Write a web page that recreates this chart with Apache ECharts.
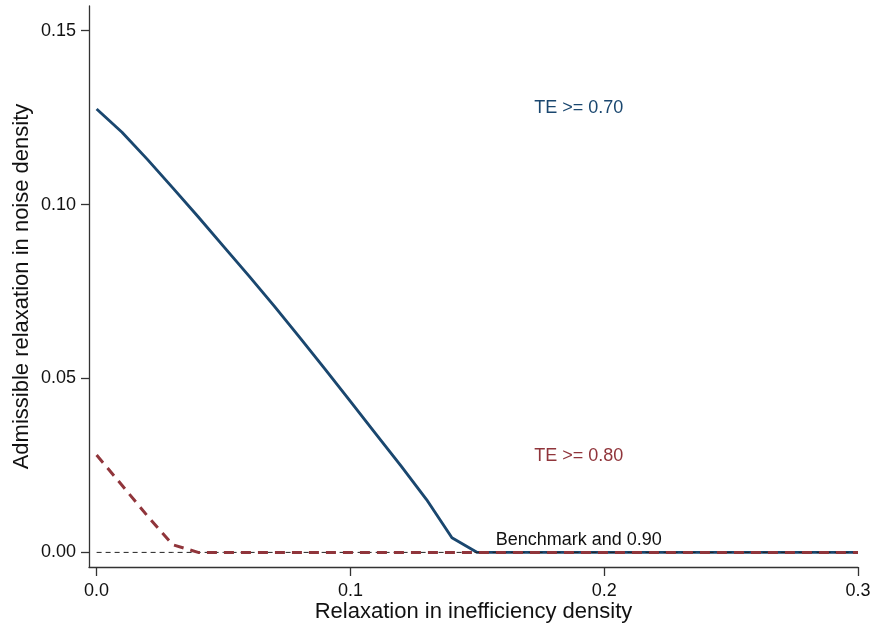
<!DOCTYPE html>
<html>
<head>
<meta charset="utf-8">
<script src="https://cdn.jsdelivr.net/npm/echarts@6/dist/echarts.min.js"></script>
<style>
html,body{margin:0;padding:0;background:#fff;}
#chart{width:875px;height:629px;}
</style>
</head>
<body>
<div id="chart"></div>
<script>
// ---- data ----
const xValues = [0.00,0.01,0.02,0.03,0.04,0.05,0.06,0.07,0.08,0.09,0.10,0.11,0.12,0.13,0.14,0.15,
                 0.16,0.17,0.18,0.19,0.20,0.21,0.22,0.23,0.24,0.25,0.26,0.27,0.28,0.29,0.30];
const te70 = [0.1275,0.1208,0.1130,0.1048,0.0965,0.0880,0.0795,0.0708,0.0618,0.0527,0.0434,0.0341,0.0248,0.0152,0.0042,0,
              0,0,0,0,0,0,0,0,0,0,0,0,0,0,0];
const te80 = [0.0280,0.0193,0.0105,0.0022,0,0,0,0,0,0,0,0,0,0,0,0,
              0,0,0,0,0,0,0,0,0,0,0,0,0,0,0];
const benchmark = [0,0,0,0,0,0,0,0,0,0,0,0,0,0,0,0,0,0,0,0,0,0,0,0,0,0,0,0,0,0,0];
const xTicks = [0, 0.1, 0.2, 0.3];
const yTicks = [0, 0.05, 0.10, 0.15];
const noteTexts = ['TE >= 0.70', 'TE >= 0.80', 'Benchmark and 0.90'];
const noteX = [0.19, 0.19, 0.19];
const noteY = [0.1277, 0.0277, 0.0035];

const navy = '#1a476f', maroon = '#90353b';
const noteColors = [navy, maroon, '#111111'];
const pairs = ys => xValues.map((x, i) => [x, ys[i]]);

const chart = echarts.init(document.getElementById('chart'), null, {renderer: 'canvas'});
const font = 'Liberation Sans, Arial, Helvetica, sans-serif';
chart.setOption({
  animation: false,
  backgroundColor: '#ffffff',
  grid: {left: 89, right: 17, top: 6, bottom: 62, containLabel: false, outerBoundsMode: 'none'},
  xAxis: {
    type: 'value', min: -0.003, max: 0.3,
    name: 'Relaxation in inefficiency density', nameLocation: 'middle', nameGap: 34, nameMoveOverlap: false,
    nameTextStyle: {fontSize: 22, color: '#111', fontFamily: font},
    axisLine: {show: true, onZero: false, lineStyle: {color: '#333', width: 1.3}},
    axisTick: {show: true, length: 9, customValues: xTicks, lineStyle: {color: '#333', width: 1.3}},
    axisLabel: {customValues: xTicks, margin: 15, fontSize: 18, color: '#111', fontFamily: font,
      formatter: v => v.toFixed(1)},
    splitLine: {show: false}
  },
  yAxis: {
    type: 'value', min: -0.0042, max: 0.1571,
    name: 'Admissible relaxation in noise density', nameLocation: 'middle', nameGap: 56, nameMoveOverlap: false,
    nameTextStyle: {fontSize: 22, color: '#111', fontFamily: font},
    axisLine: {show: true, onZero: false, lineStyle: {color: '#333', width: 1.3}},
    axisTick: {show: true, length: 8, customValues: yTicks, lineStyle: {color: '#333', width: 1.3}},
    axisLabel: {customValues: yTicks, margin: 13, fontSize: 18, color: '#111', fontFamily: font,
      formatter: v => v.toFixed(2)},
    splitLine: {show: false}
  },
  series: [
    {type: 'line', name: 'TE >= 0.70', data: pairs(te70), showSymbol: false, symbol: 'none',
     lineStyle: {color: navy, width: 2.9}, z: 2},
    {type: 'line', name: 'Benchmark', data: pairs(benchmark), showSymbol: false, symbol: 'none',
     lineStyle: {color: '#222', width: 1, type: [5, 4]}, z: 3},
    {type: 'line', name: 'TE >= 0.80', data: pairs(te80), showSymbol: false, symbol: 'none',
     lineStyle: {color: maroon, width: 3, type: [10, 7]}, z: 4},
    {type: 'scatter', symbolSize: 0, silent: true, z: 5, itemStyle: {opacity: 1},
     data: noteTexts.map((t, i) => ({value: [noteX[i], noteY[i]], name: t,
       itemStyle: {opacity: 1},
       label: {show: true, position: 'inside', formatter: t, color: noteColors[i], opacity: 1,
               fontSize: 18, fontFamily: font}}))}
  ]
});
</script>
</body>
</html>
